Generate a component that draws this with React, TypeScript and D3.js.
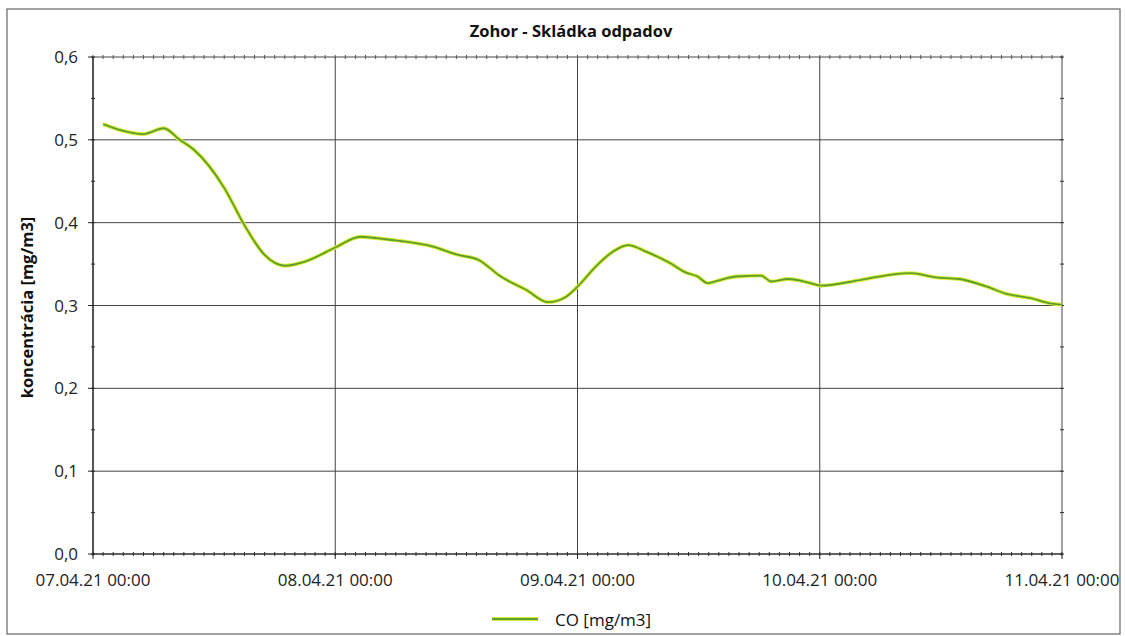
import React from "react";
import * as d3 from "d3";

const title = "Zohor - Skládka odpadov";
const yLabel = "koncentrácia [mg/m3]";
const seriesName = "CO [mg/m3]";
const startDate = new Date(2021, 3, 7, 0, 0);
const xTickDates = [
  new Date(2021, 3, 7), new Date(2021, 3, 8), new Date(2021, 3, 9), new Date(2021, 3, 10), new Date(2021, 3, 11),
];
const yTicks = [0, 0.1, 0.2, 0.3, 0.4, 0.5, 0.6];
// hours since 07.04.21 00:00
const hours = [1, 5, 7, 8.6, 10, 13, 15, 17, 19, 21, 24, 26.5, 29, 31, 33.4, 36.2, 38.2, 40.4, 42.9, 45.1, 46.8, 48.1, 49.8, 51.5, 53, 54.8, 57.2, 58.7, 59.9, 60.9, 62.2, 63.7, 66.2, 67.2, 68.9, 71.1, 72.1, 76.1, 79.5, 81, 83.5, 85.8, 88.5, 90.5, 92.9, 94.7, 96];
const coValues = [0.519, 0.507, 0.514, 0.5, 0.488, 0.442, 0.397, 0.361, 0.348, 0.353, 0.37, 0.383, 0.38, 0.377, 0.372, 0.361, 0.355, 0.335, 0.319, 0.304, 0.31, 0.324, 0.347, 0.365, 0.373, 0.365, 0.351, 0.34, 0.335, 0.327, 0.331, 0.335, 0.336, 0.329, 0.332, 0.327, 0.324, 0.331, 0.338, 0.339, 0.334, 0.332, 0.323, 0.314, 0.309, 0.303, 0.301];

const W = 1125, H = 636;
const L = 93, R = 1062, T = 57, B = 554;
const FONT = "'Open Sans', sans-serif";

export default function App() {
  const x = d3.scaleTime().domain([xTickDates[0], xTickDates[4]]).range([L, R]);
  const y = d3.scaleLinear().domain([0, 0.6]).range([B, T]);
  const data = hours.map((h, i) => ({ d: new Date(startDate.getTime() + h * 3600000), v: coValues[i] }));
  const line = d3.line<any>().x(p => x(p.d)).y(p => y(p.v)).curve(d3.curveMonotoneX);
  const path = line(data) || "";
  const hourTicks = d3.timeHour.range(xTickDates[0], d3.timeHour.offset(xTickDates[4], 1));
  const yMinor = d3.range(0, 0.601, 0.05);
  const fmt = d3.timeFormat("%d.%m.%y %H:%M");
  const grid = "#444";
  return (
    <svg width={W} height={H} style={{ position: "absolute", left: 0, top: 0, background: "#fff" }}>
      <rect x={7} y={9} width={1113} height={625} fill="#fff" stroke="#666" strokeWidth={1.2} />
      <text x={571} y={37} textAnchor="middle" fontFamily={FONT} fontWeight="bold" fontSize={16.5} fill="#111">{title}</text>
      {/* grid */}
      {yTicks.map(t => (
        <line key={"gy" + t} x1={L} x2={R} y1={y(t)} y2={y(t)} stroke={grid} strokeWidth={1} />
      ))}
      {xTickDates.map((t, i) => (
        <line key={"gx" + i} x1={x(t)} x2={x(t)} y1={T} y2={B} stroke={grid} strokeWidth={1} />
      ))}
      {/* minor ticks */}
      {hourTicks.map((t, i) => (
        <g key={"ht" + i}>
          <line x1={x(t)} x2={x(t)} y1={B - 2} y2={B + 2} stroke="#333" strokeWidth={1} />
          <line x1={x(t)} x2={x(t)} y1={T - 2} y2={T + 2} stroke="#555" strokeWidth={1} />
        </g>
      ))}
      {yMinor.map((t, i) => (
        <g key={"ym" + i}>
          <line x1={L - 2} x2={L + 2} y1={y(t)} y2={y(t)} stroke="#333" />
          <line x1={R - 2} x2={R + 2} y1={y(t)} y2={y(t)} stroke="#333" />
        </g>
      ))}
      <line x1={L} x2={R} y1={B} y2={B} stroke="#222" strokeWidth={1.2} />
      <line x1={L} x2={L} y1={T} y2={B} stroke="#222" strokeWidth={1.2} />
      {/* major tick marks */}
      {yTicks.map(t => (
        <line key={"yt" + t} x1={L - 5} x2={L} y1={y(t)} y2={y(t)} stroke="#222" />
      ))}
      {xTickDates.map((t, i) => (
        <line key={"xt" + i} x1={x(t)} x2={x(t)} y1={B} y2={B + 5} stroke="#222" />
      ))}
      {/* labels */}
      {yTicks.map(t => (
        <text key={"yl" + t} x={78} y={y(t) + 6} textAnchor="end" fontFamily={FONT} fontSize={17} fill="#222">{d3.format(".1f")(t).replace(".", ",")}</text>
      ))}
      {xTickDates.map((t, i) => (
        <text key={"xl" + i} x={x(t)} y={586} textAnchor="middle" fontFamily={FONT} fontSize={17} fill="#222">{fmt(t)}</text>
      ))}
      <text transform={`translate(33,${(T + B) / 2 + 2}) rotate(-90)`} textAnchor="middle" fontFamily={FONT} fontWeight="bold" fontSize={16.5} fill="#111">{yLabel}</text>
      {/* series */}
      <path d={path} fill="none" stroke="#dcec3c" strokeWidth={3.8} strokeLinejoin="round" />
      <path d={path} fill="none" stroke="#5e9e2a" strokeWidth={1.8} strokeLinejoin="round" />
      {/* legend */}
      <line x1={492} x2={538} y1={619} y2={619} stroke="#dcec3c" strokeWidth={3.8} />
      <line x1={492} x2={538} y1={619} y2={619} stroke="#5e9e2a" strokeWidth={1.8} />
      <text x={555} y={626} fontFamily={FONT} fontSize={17} fill="#111">{seriesName}</text>
    </svg>
  );
}
